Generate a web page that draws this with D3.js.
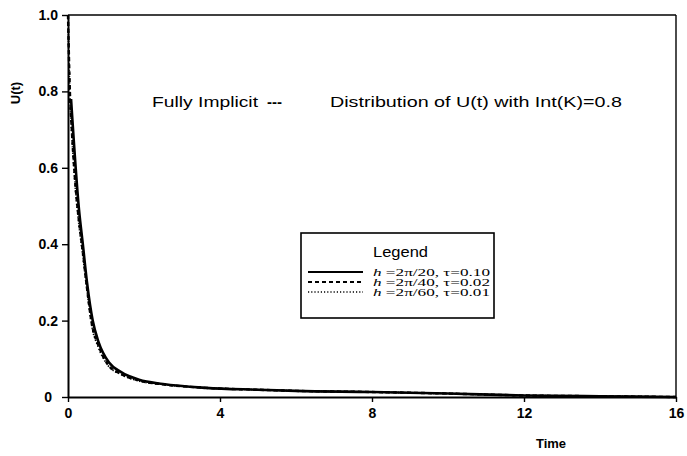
<!DOCTYPE html>
<html><head><meta charset="utf-8">
<script src="https://cdn.jsdelivr.net/npm/d3@7"></script>
<style>body{margin:0;background:#fff}svg{display:block}</style>
</head><body>
<script>
// ---- data ----
const xTicks = [0, 4, 8, 12, 16];
const yTicks = [0, 0.2, 0.4, 0.6, 0.8, 1.0];
const yTickLabels = ["0", "0.2", "0.4", "0.6", "0.8", "1.0"];

const tSolid = [0.08, 0.29, 0.39, 0.5, 0.65, 0.8, 1.08, 1.4, 1.87, 2.5, 3.63, 5, 6, 8, 10, 12, 14, 16];
const uSolid = [0.78, 0.49, 0.40, 0.30, 0.20, 0.145, 0.09, 0.065, 0.045, 0.034, 0.024, 0.019, 0.016, 0.013, 0.009, 0.004, 0.002, 0.0];

const tDash = [0, 0.05, 0.1, 0.2, 0.29, 0.39, 0.5, 0.63, 0.8, 1.05, 1.4, 1.87, 2.5, 3.63, 5, 6, 8, 10, 12, 14, 16];
const uDash = [1.0, 0.8, 0.7, 0.55, 0.46, 0.38, 0.285, 0.19, 0.135, 0.085, 0.06, 0.043, 0.033, 0.024, 0.019, 0.016, 0.013, 0.009, 0.004, 0.002, 0.0];

const tDot = [0, 0.05, 0.1, 0.2, 0.29, 0.39, 0.5, 0.63, 0.8, 1.05, 1.4, 1.87, 2.5, 3.63, 5, 6, 8, 10, 12, 14, 16];
const uDot = [1.0, 0.79, 0.69, 0.54, 0.45, 0.37, 0.28, 0.185, 0.13, 0.083, 0.059, 0.042, 0.033, 0.024, 0.019, 0.016, 0.013, 0.009, 0.004, 0.002, 0.0];

const legendLabels = [["h", " =2π/20, τ=0.10"], ["h", " =2π/40, τ=0.02"], ["h", " =2π/60, τ=0.01"]];
const dashStyles = [null, "4,3", "1.2,2"];

// ---- drawing ----
const W = 687, H = 456;
const svg = d3.select("body").append("svg").attr("width", W).attr("height", H);
const x = d3.scaleLinear().domain([0, 16]).range([68, 676]);
const y = d3.scaleLinear().domain([0, 1]).range([397, 15]);

const sans = "Liberation Sans, Arial, sans-serif";
const serif = "Liberation Serif, Times New Roman, serif";

// frame (top & right)
svg.append("line").attr("x1", x(0)).attr("x2", x(16)).attr("y1", y(1)).attr("y2", y(1))
  .attr("stroke", "#000").attr("stroke-width", 1.6);
svg.append("line").attr("x1", x(16)).attr("x2", x(16)).attr("y1", y(1)).attr("y2", y(0))
  .attr("stroke", "#000").attr("stroke-width", 1.4);

// axes
const xAxis = d3.axisBottom(x).tickValues(xTicks).tickFormat(d3.format("d")).tickSizeInner(5).tickSizeOuter(0).tickPadding(6);
const gx = svg.append("g").attr("transform", `translate(0,${y(0)})`).call(xAxis);
gx.select(".domain").attr("stroke-width", 2.2);
gx.selectAll(".tick line").attr("stroke-width", 1.4);
gx.selectAll("text").attr("font-family", sans).attr("font-weight", "bold").attr("font-size", 14);

const yAxis = d3.axisLeft(y).tickValues(yTicks).tickFormat((d, i) => yTickLabels[i]).tickSizeInner(6).tickSizeOuter(0).tickPadding(4);
const gy = svg.append("g").attr("transform", `translate(${x(0)},0)`).call(yAxis);
gy.select(".domain").attr("stroke-width", 2);
gy.selectAll(".tick line").attr("stroke-width", 1.4);
gy.selectAll("text").attr("font-family", sans).attr("font-weight", "bold").attr("font-size", 14);
gy.selectAll(".tick").filter(d => d === 0).select("text").attr("dx", -6);

// axis labels
svg.append("text").attr("x", 551).attr("y", 448).attr("text-anchor", "middle")
  .attr("font-family", sans).attr("font-weight", "bold").attr("font-size", 13).text("Time");
svg.append("text").attr("transform", "translate(20,93) rotate(-90)").attr("text-anchor", "middle")
  .attr("font-family", sans).attr("font-weight", "bold").attr("font-size", 13).text("U(t)");

// titles
svg.append("text").attr("x", 152).attr("y", 107).attr("font-family", sans).attr("font-size", 15)
  .attr("textLength", 106).attr("lengthAdjust", "spacingAndGlyphs").text("Fully Implicit");
svg.append("text").attr("x", 267).attr("y", 107).attr("font-family", sans).attr("font-size", 15)
  .attr("font-weight", "bold").text("---");
svg.append("text").attr("x", 330).attr("y", 107).attr("font-family", sans).attr("font-size", 15)
  .attr("textLength", 292).attr("lengthAdjust", "spacingAndGlyphs").text("Distribution of U(t)  with Int(K)=0.8");

// curves
const line = d3.line().x(d => x(d[0])).y(d => y(d[1])).curve(d3.curveMonotoneX);
const series = [
  {t: tSolid, u: uSolid, w: 2.6},
  {t: tDash, u: uDash, w: 2.4},
  {t: tDot, u: uDot, w: 1.8}
];
series.forEach((s, i) => {
  svg.append("path").datum(s.t.map((t, j) => [t, s.u[j]]))
    .attr("d", line).attr("fill", "none").attr("stroke", "#000")
    .attr("stroke-width", s.w).attr("stroke-dasharray", dashStyles[i]);
});

// legend
const lg = svg.append("g");
lg.append("rect").attr("x", 301).attr("y", 233).attr("width", 193).attr("height", 85)
  .attr("fill", "#fff").attr("stroke", "#000").attr("stroke-width", 1.6);
lg.append("text").attr("x", 373).attr("y", 257)
  .attr("font-family", sans).attr("font-size", 14).attr("textLength", 55).attr("lengthAdjust", "spacingAndGlyphs").text("Legend");
legendLabels.forEach((lab, i) => {
  const yy = 272 + i * 10;
  lg.append("line").attr("x1", 308).attr("x2", 363).attr("y1", yy).attr("y2", yy)
    .attr("stroke", "#000").attr("stroke-width", i === 2 ? 1.6 : 2).attr("stroke-dasharray", dashStyles[i]);
  const tx = lg.append("text").attr("x", 373).attr("y", yy + 3.5).attr("font-family", serif).attr("font-size", 10.5)
    .attr("textLength", 117).attr("lengthAdjust", "spacingAndGlyphs");
  tx.append("tspan").attr("font-style", "italic").text(lab[0]);
  tx.append("tspan").text(lab[1]);
});
</script>
</body></html>
